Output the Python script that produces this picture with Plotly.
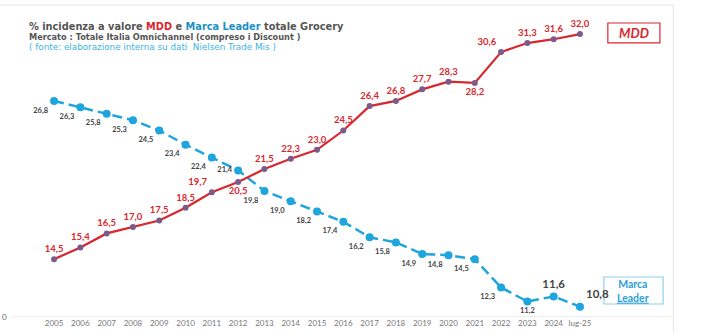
import plotly.graph_objects as go

categories = ["2005","2006","2007","2008","2009","2010","2011","2012","2013","2014",
              "2015","2016","2017","2018","2019","2020","2021","2022","2023","2024","lug-25"]
mdd = [14.5,15.4,16.5,17.0,17.5,18.5,19.7,20.5,21.5,22.3,23.0,24.5,26.4,26.8,27.7,28.3,28.2,30.6,31.3,31.6,32.0]
leader = [26.8,26.3,25.8,25.3,24.5,23.4,22.4,21.4,19.8,19.0,18.2,17.4,16.2,15.8,14.9,14.8,14.5,12.3,11.2,11.6,10.8]

x = list(range(len(categories)))
fmt = lambda v: f"{v:.1f}".replace(".", ",")

RED = "#d9272e"
BLUE = "#1ea5dd"

mdd_pos = ["top center"] * len(mdd)
mdd_pos[6] = "top left"
mdd_pos[7] = "bottom center"
mdd_pos[16] = "bottom center"
mdd_pos[17] = "top left"

lead_pos = ["bottom left"] * len(leader)
lead_pos[7] = "middle left"
lead_pos[18] = "bottom center"
lead_pos[19] = "top center"
lead_pos[20] = "top right"
lead_size = [7.5] * len(leader)
lead_size[19] = 11.5
lead_size[20] = 11.5

fig = go.Figure()
fig.add_trace(go.Scatter(
    x=x, y=leader, mode="lines+markers+text",
    line=dict(color=BLUE, width=2.5, dash="10px,5px"),
    marker=dict(color=BLUE, size=8),
    text=[fmt(v) for v in leader], textposition=lead_pos,
    textfont=dict(family="Lato", size=lead_size, color="#444444", weight="bold"),
    cliponaxis=False, hoverinfo="skip",
))
fig.add_trace(go.Scatter(
    x=x, y=mdd, mode="lines+markers+text",
    line=dict(color=RED, width=2.2),
    marker=dict(color="#7a5b8c", size=6),
    text=[fmt(v) for v in mdd], textposition=mdd_pos,
    textfont=dict(family="Lato", size=9.5, color=RED, weight="bold"),
    cliponaxis=False, hoverinfo="skip",
))

TF = "DejaVu Sans"
fig.update_layout(
    width=702, height=336,
    margin=dict(l=12, r=30, t=5, b=19),
    paper_bgcolor="white", plot_bgcolor="white",
    showlegend=False,
    font=dict(family="Lato"),
    xaxis=dict(range=[-1.6, 23.5], tickmode="array", tickvals=x, ticktext=categories,
               showgrid=False, zeroline=False, showline=False, ticks="",
               tickfont=dict(size=8, color="#777777")),
    yaxis=dict(range=[10, 34.26], showgrid=False, zeroline=False, showticklabels=False,
               showline=False),
    shapes=[
        dict(type="line", xref="paper", yref="y", x0=0, x1=1, y0=10, y1=10,
             line=dict(color="#dddddd", width=1), layer="below"),
        dict(type="line", xref="paper", yref="paper", x0=1.002, x1=1.002, y0=-0.05, y1=1,
             line=dict(color="#e6e6e6", width=1), layer="below"),
        dict(type="line", xref="paper", yref="paper", x0=-0.02, x1=1.002, y0=1, y1=1,
             line=dict(color="#e6e6e6", width=1), layer="below"),
        dict(type="rect", xref="x", yref="y", x0=21.06, x1=23.04, y0=31.31, y1=32.86,
             line=dict(color=RED, width=1.2), fillcolor="white", layer="below"),
        dict(type="rect", xref="x", yref="y", x0=20.91, x1=23.16, y0=11.01, y1=13.11,
             line=dict(color="#8fd0ea", width=1.2), fillcolor="white", layer="below"),
    ],
    annotations=[
        dict(xref="paper", yref="paper", x=0.0, y=0.0, xshift=-12, text="0", showarrow=False,
             xanchor="left", yanchor="middle", font=dict(size=8, color="#666666")),
        dict(xref="paper", yref="paper", x=0.023, y=0.932, xanchor="left", yanchor="middle",
             showarrow=False,
             text="<b>% incidenza a valore <span style='color:#d9272e'>MDD</span> e "
                  "<span style='color:#1e8fc4'>Marca Leader</span> totale Grocery</b>",
             font=dict(family=TF, size=9.8, color="#555555")),
        dict(xref="paper", yref="paper", x=0.023, y=0.899, xanchor="left", yanchor="middle",
             showarrow=False,
             text="<b>Mercato : Totale Italia Omnichannel (compreso i Discount )</b>",
             font=dict(family=TF, size=8.2, color="#555555")),
        dict(xref="paper", yref="paper", x=0.023, y=0.866, xanchor="left", yanchor="middle",
             showarrow=False,
             text="( fonte: elaborazione interna su dati  Nielsen Trade Mis )",
             font=dict(family=TF, size=8.8, color="#3cb4e0")),
        dict(xref="x", yref="y", x=22.05, y=32.08, text="<b><i>MDD</i></b>", showarrow=False,
             font=dict(size=13, color=RED)),
        dict(xref="x", yref="y", x=22.03, y=12.05, text="<b>Marca</b><br><b><u>Leader</u></b>",
             showarrow=False, font=dict(size=10.5, color="#2a9fd6"), align="center"),
    ],
)

fig.write_html("out.html")
